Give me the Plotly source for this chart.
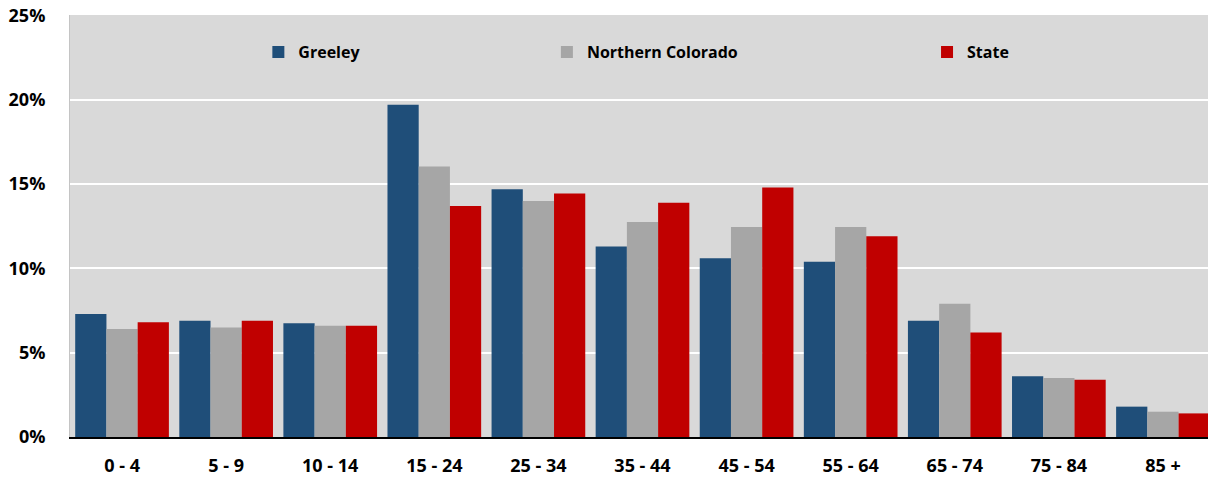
import plotly.graph_objects as go

categories = ["0 - 4", "5 - 9", "10 - 14", "15 - 24", "25 - 34", "35 - 44",
              "45 - 54", "55 - 64", "65 - 74", "75 - 84", "85 +"]
greeley = [7.3, 6.9, 6.75, 19.7, 14.7, 11.3, 10.6, 10.4, 6.9, 3.6, 1.8]
northern_colorado = [6.4, 6.5, 6.6, 16.05, 14.0, 12.75, 12.45, 12.45, 7.9, 3.5, 1.5]
state = [6.8, 6.9, 6.6, 13.7, 14.45, 13.9, 14.8, 11.9, 6.2, 3.4, 1.4]
y_ticks = [0, 5, 10, 15, 20, 25]
y_tick_labels = ["0%", "5%", "10%", "15%", "20%", "25%"]

series = [
    ("Greeley", greeley, "#1f4e79", "legend"),
    ("Northern Colorado", northern_colorado, "#a6a6a6", "legend2"),
    ("State", state, "#c00000", "legend3"),
]

FONT = "Open Sans"
fig = go.Figure()
for name, vals, color, lg in series:
    fig.add_trace(go.Bar(
        x=categories, y=vals, name=name, legend=lg, showlegend=True,
        marker=dict(color=color, line=dict(width=0)),
    ))

legend_common = dict(
    orientation="h", bgcolor="rgba(0,0,0,0)",
    font=dict(family=FONT, size=16, color="#000000", weight="bold"),
    xanchor="left", yanchor="middle", y=0.912,
    itemwidth=30, tracegroupgap=0, visible=True,
)

# page body has an 8px margin, so the figure is sized to fit the window
fig.update_layout(
    width=1208, height=470,
    margin=dict(l=62, r=1, t=7, b=41, autoexpand=False),
    paper_bgcolor="white",
    plot_bgcolor="#d9d9d9",
    showlegend=True,
    barmode="group", bargap=0.1, bargroupgap=0,
    font=dict(family=FONT, color="#000000"),
    legend=dict(x=0.1645, **legend_common),
    legend2=dict(x=0.4165, **legend_common),
    legend3=dict(x=0.7485, **legend_common),
    xaxis=dict(
        tickfont=dict(family=FONT, size=18, weight="bold"),
        showgrid=False, ticks="", showline=True, linecolor="#000000", linewidth=1.5,
        automargin=False, ticklabelstandoff=12,
    ),
    yaxis=dict(
        range=[0, 25.03], tickvals=y_ticks, ticktext=y_tick_labels,
        tickfont=dict(family=FONT, size=18, weight="bold"),
        showgrid=True, gridcolor="white", gridwidth=2,
        zeroline=False, showline=True, linecolor="#c4c4c4", linewidth=1,
        ticks="", ticklabelstandoff=20,
        automargin=False, ticklabeloverflow="allow",
    ),
)

fig.write_html("out.html")
